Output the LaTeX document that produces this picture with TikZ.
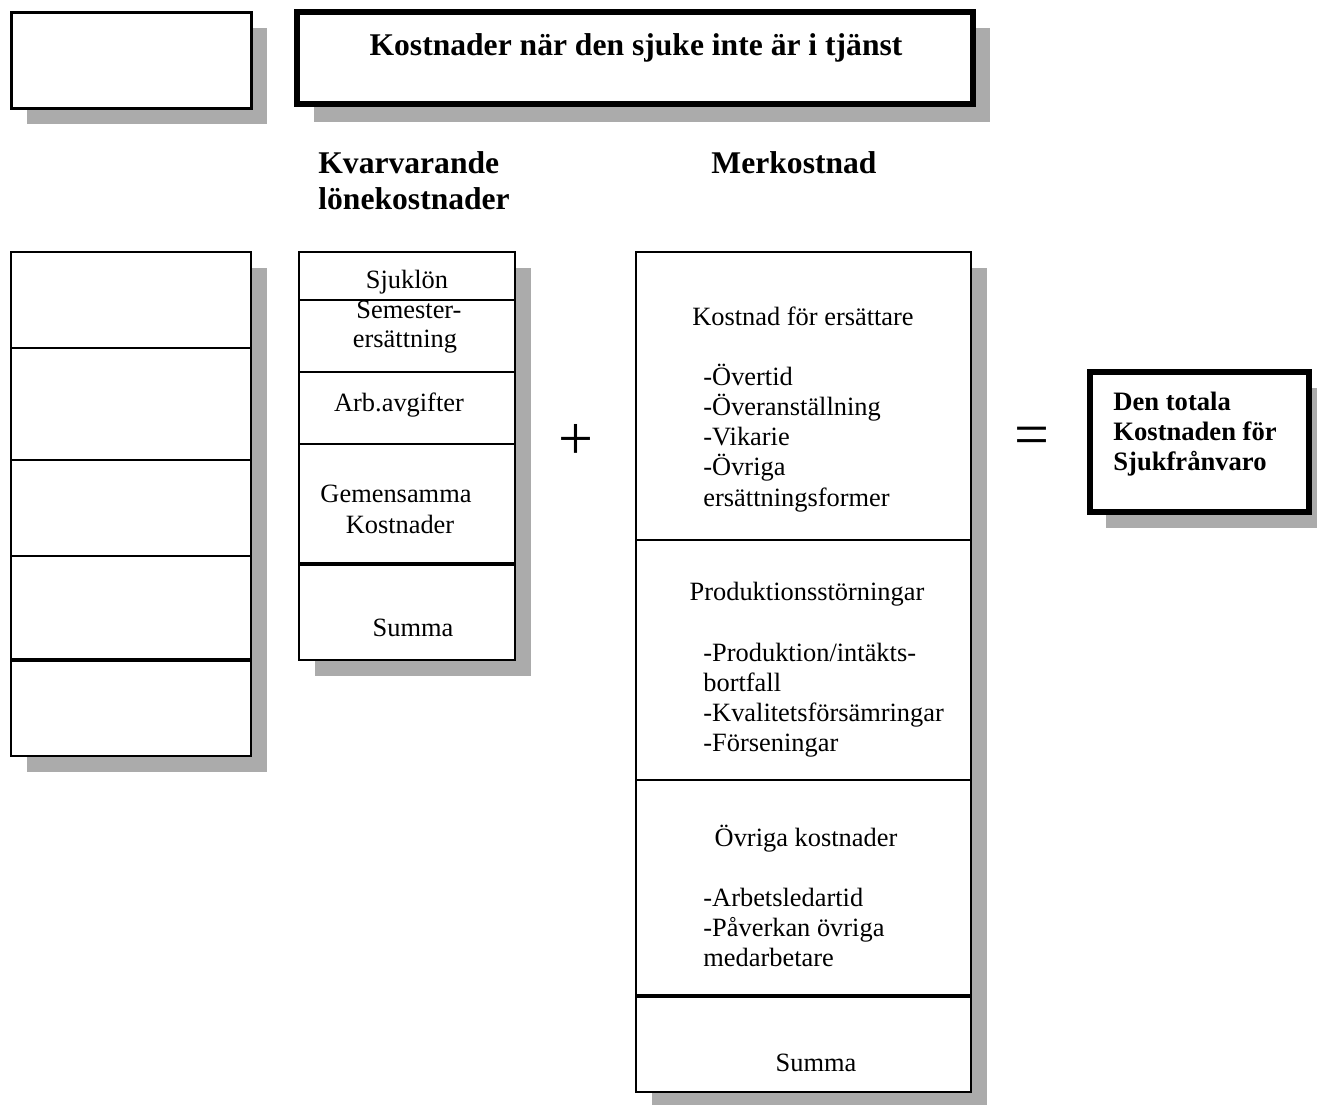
\documentclass[tikz,border=0pt]{standalone}
\usepackage{fontspec}
\setmainfont{Liberation Serif}
\begin{document}
\begin{tikzpicture}[x=0.5pt,y=-0.5pt,
  shadowfill/.style={fill=black!33,draw=none},
  thinbox/.style={draw=black,fill=white,line width=1pt},
  heavybox/.style={draw=black,fill=white,line width=2.75pt},
  divider/.style={draw=black,line width=1pt},
  thickdivider/.style={draw=black,line width=2pt},
  txt/.style={inner sep=0pt,font=\fontsize{13.2}{15}\selectfont},
  hd/.style={inner sep=0pt,font=\fontsize{15.8}{18}\selectfont\bfseries},
  smallhd/.style={inner sep=0pt,font=\fontsize{13.3}{15}\selectfont\bfseries},
  sign/.style={inner sep=0pt,font=\fontsize{31}{31}\selectfont}]
\useasboundingbox (0,0) rectangle (1317,1104);

% shadows
\fill[shadowfill] (27,28) rectangle (267,124);
\fill[shadowfill] (314,28) rectangle (990,122);
\fill[shadowfill] (27,268) rectangle (267,772);
\fill[shadowfill] (315,268) rectangle (531,676);
\fill[shadowfill] (652,268) rectangle (987,1110);
\fill[shadowfill] (1106,388) rectangle (1330,528);

% top-left empty box
\draw[thinbox,line width=1.5pt] (11,12) rectangle (251,108);

% title box
\draw[heavybox] (297,12) rectangle (973,104);
\node[hd,anchor=base] (title) at (636,55) {Kostnader när den sjuke inte är i tjänst};

% headings
\node[hd,anchor=base west] (kv1) at (318,173) {Kvarvarande};
\node[hd,anchor=base west] (kv2) at (318,209) {lönekostnader};
\node[hd,anchor=base] (mer) at (794,173) {Merkostnad};

% left column
\draw[thinbox,line width=1.25pt] (11,252) rectangle (251,756);
\draw[divider] (11,348) -- (251,348);
\draw[divider] (11,460) -- (251,460);
\draw[divider] (11,556) -- (251,556);
\draw[thickdivider] (11,660) -- (251,660);

% middle column
\draw[thinbox] (299,252) rectangle (515,660);
\draw[divider] (299,300) -- (515,300);
\draw[divider] (299,372) -- (515,372);
\draw[divider] (299,444) -- (515,444);
\draw[thickdivider] (299,564) -- (515,564);
\node[txt,anchor=base] (sjuk) at (407,288) {Sjuklön};
\node[txt,anchor=base] (sem1) at (409,318) {Semester-};
\node[txt,anchor=base] (sem2) at (405,347) {ersättning};
\node[txt,anchor=base] (arb) at (399,411) {Arb.avgifter};
\node[txt,anchor=base] (gem1) at (396,502) {Gemensamma};
\node[txt,anchor=base] (gem2) at (400,533) {Kostnader};
\node[txt,anchor=base] (sum1) at (413,636) {Summa};

% plus
\node[sign] (plus) at (576,442) {+};

% Merkostnad column
\draw[thinbox] (636,252) rectangle (971,1092);
\draw[divider] (636,540) -- (971,540);
\draw[divider] (636,780) -- (971,780);
\draw[thickdivider] (636,996) -- (971,996);
\node[txt,anchor=base] (ers) at (803,325) {Kostnad för ersättare};
\node[txt,anchor=base west] (e1) at (703,385) {-Övertid};
\node[txt,anchor=base west] (e2) at (703,415) {-Överanställning};
\node[txt,anchor=base west] (e3) at (703,445) {-Vikarie};
\node[txt,anchor=base west] (e4) at (703,475) {-Övriga};
\node[txt,anchor=base west] (e5) at (703,506) {ersättningsformer};
\node[txt,anchor=base] (prod) at (807,600) {Produktionsstörningar};
\node[txt,anchor=base west] (p1) at (703,661) {-Produktion/intäkts-};
\node[txt,anchor=base west] (p2) at (703,691) {bortfall};
\node[txt,anchor=base west] (p3) at (703,721) {-Kvalitetsförsämringar};
\node[txt,anchor=base west] (p4) at (703,751) {-Förseningar};
\node[txt,anchor=base] (ovr) at (806,846) {Övriga kostnader};
\node[txt,anchor=base west] (o1) at (703,906) {-Arbetsledartid};
\node[txt,anchor=base west] (o2) at (703,936) {-Påverkan övriga};
\node[txt,anchor=base west] (o3) at (703,966) {medarbetare};
\node[txt,anchor=base] (sum2) at (816,1071) {Summa};

% equals
\node[sign] (eq) at (1032,441) {=};

% total box
\draw[heavybox] (1090,372) rectangle (1309,512);
\node[smallhd,anchor=base west] (t1) at (1113,410) {Den totala};
\node[smallhd,anchor=base west] (t2) at (1113,440) {Kostnaden för};
\node[smallhd,anchor=base west] (t3) at (1113,470) {Sjukfrånvaro};
\end{tikzpicture}
\end{document}
